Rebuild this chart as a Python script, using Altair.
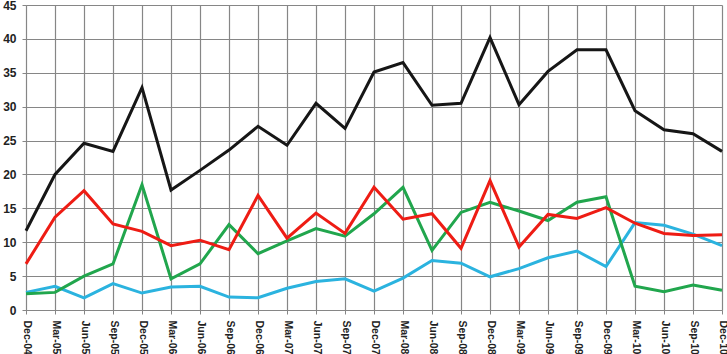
import altair as alt
import pandas as pd

quarters = ["Dec-04","Mar-05","Jun-05","Sep-05","Dec-05","Mar-06","Jun-06","Sep-06","Dec-06",
            "Mar-07","Jun-07","Sep-07","Dec-07","Mar-08","Jun-08","Sep-08","Dec-08",
            "Mar-09","Jun-09","Sep-09","Dec-09","Mar-10","Jun-10","Sep-10","Dec-10"]

black = [11.7,20.0,24.6,23.4,32.8,17.7,20.6,23.6,27.1,24.3,30.5,26.8,35.1,36.5,30.2,30.5,40.2,30.3,35.2,38.4,38.4,29.4,26.6,26.0,23.4]
red   = [6.8,13.7,17.6,12.7,11.6,9.5,10.3,8.9,16.9,10.6,14.3,11.3,18.1,13.4,14.2,9.1,19.1,9.3,14.1,13.5,15.1,12.8,11.3,11.0,11.1]
green = [2.4,2.6,5.0,6.8,18.5,4.6,6.8,12.6,8.3,10.2,12.0,10.9,14.2,18.1,8.8,14.4,15.9,14.6,13.2,15.9,16.7,3.5,2.7,3.7,2.9]
blue  = [2.6,3.5,1.8,3.9,2.5,3.4,3.5,1.9,1.8,3.2,4.2,4.6,2.8,4.7,7.3,6.9,4.9,6.1,7.7,8.7,6.4,12.9,12.5,11.2,9.5]

series = [("blue", blue, "#2BB3DF"), ("green", green, "#21A64D"), ("red", red, "#EE1C14"), ("black", black, "#161616")]

rows = []
for order, (name, vals, col) in enumerate(series):
    for q, v in zip(quarters, vals):
        rows.append({"quarter": q, "value": v, "series": name, "order": order})
df = pd.DataFrame(rows)

x = alt.X("quarter:O", sort=quarters, scale=alt.Scale(type="point", padding=0),
          axis=alt.Axis(title=None, labelAngle=90, labelAlign="left", labelBaseline="middle",
                        labelFont="Liberation Sans Narrow, Liberation Sans", labelFontSize=10.5,
                        labelFontWeight="bold",
                        labelColor="#222222", labelPadding=6, tickSize=4, tickColor="#868686",
                        domainColor="#868686", grid=True, gridColor="#868686", gridWidth=1.2,
                        labelOverlap=False))
y = alt.Y("value:Q", scale=alt.Scale(domain=[0, 45], nice=False),
          axis=alt.Axis(title=None, values=list(range(0, 50, 5)), labelFont="Liberation Sans",
                        labelFontSize=12, labelFontWeight="bold", labelColor="#222222",
                        labelPadding=6, tickSize=4, tickColor="#868686", domainColor="#868686",
                        grid=True, gridColor="#868686", gridWidth=1.2))

chart = alt.Chart(df).mark_line(strokeWidth=3, strokeJoin="miter").encode(
    x=x, y=y,
    color=alt.Color("series:N", scale=alt.Scale(domain=[s[0] for s in series], range=[s[2] for s in series]), legend=None),
    order=alt.Order("order:Q"),
    detail="series:N",
).properties(width=696, height=305, padding={"left": 26, "top": 5, "right": 5, "bottom": 44},
             autosize=alt.AutoSizeParams(type="none")).configure_view(stroke=None)

chart.save("out.html", embed_options={"renderer": "svg", "actions": False})
